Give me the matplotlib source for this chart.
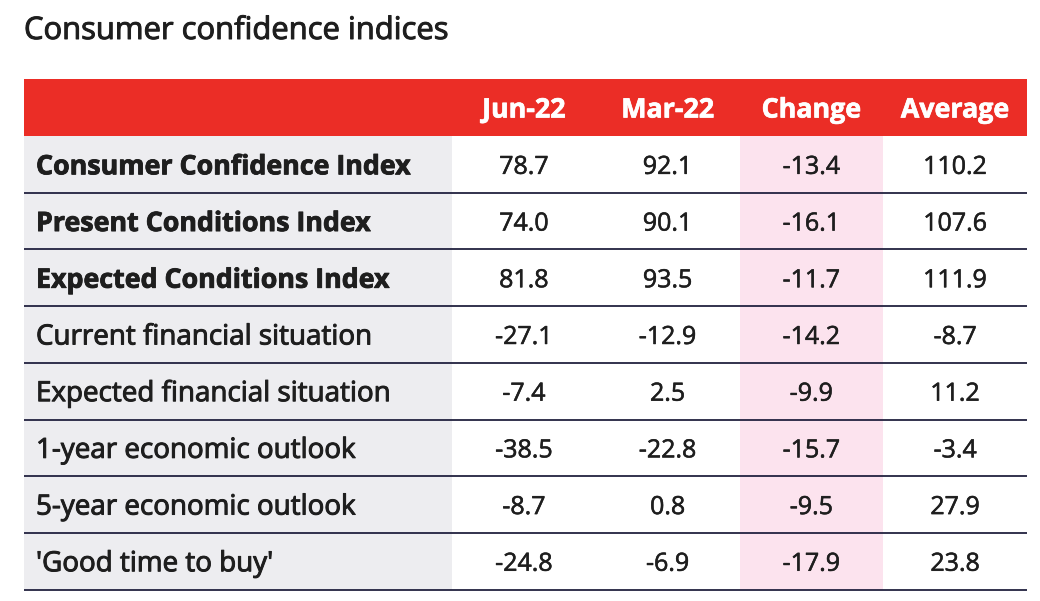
"""
Consumer confidence indices table, drawn with Matplotlib patches and text
"""

import matplotlib.pyplot as plt
import matplotlib.patheffects as pe
from matplotlib.patches import Rectangle

# Table content
columns = ["Jun-22", "Mar-22", "Change", "Average"]
row_labels = [
    "Consumer Confidence Index",
    "Present Conditions Index",
    "Expected Conditions Index",
    "Current financial situation",
    "Expected financial situation",
    "1-year economic outlook",
    "5-year economic outlook",
    "'Good time to buy'",
]
bold_rows = [True, True, True, False, False, False, False, False]
jun_22 = [78.7, 74.0, 81.8, -27.1, -7.4, -38.5, -8.7, -24.8]
mar_22 = [92.1, 90.1, 93.5, -12.9, 2.5, -22.8, 0.8, -6.9]
change = [-13.4, -16.1, -11.7, -14.2, -9.9, -15.7, -9.5, -17.9]
average = [110.2, 107.6, 111.9, -8.7, 11.2, -3.4, 27.9, 23.8]

RED = "#EB2D26"
GREY = "#EDEDF0"
PINK = "#FCE3EE"
LINE = "#22223F"
TEXT = "#1E1E1E"
FONT = "Open Sans"

# Thicken text a little, the source font is heavier than Open Sans
medium = [pe.withStroke(linewidth=0.7, foreground=TEXT)]
light_medium = [pe.withStroke(linewidth=0.4, foreground=TEXT)]
heavy = [pe.withStroke(linewidth=0.6, foreground=TEXT)]
heavy_white = [pe.withStroke(linewidth=0.5, foreground="white")]

W, H = 1040, 601
fig = plt.figure(figsize=(W / 100, H / 100), dpi=100)
ax = fig.add_axes([0, 0, 1, 1])
ax.set_xlim(0, W)
ax.set_ylim(H, 0)
ax.axis("off")

# Layout in pixels
left, right = 24, 1027
label_w = 428
col_w = (right - left - label_w) / len(columns)
head_top, head_h = 79, 57
row_h = 56.7

ax.text(left, 31, "Consumer confidence indices", fontsize=22.3, family=FONT,
        color=TEXT, va="center", ha="left", path_effects=medium)

# Header band
ax.add_patch(Rectangle((left, head_top), right - left, head_h, color=RED, lw=0))
for j, name in enumerate(columns):
    cx = left + label_w + col_w * (j + 0.5)
    ax.text(cx, head_top + head_h / 2 + 3, name, fontsize=19.3, family=FONT,
            weight="bold", color="white", ha="center", va="center",
            path_effects=heavy_white)

body_top = head_top + head_h
n = len(row_labels)
# Grey label column and pink change column backgrounds
ax.add_patch(Rectangle((left, body_top), label_w, row_h * n, color=GREY, lw=0))
ax.add_patch(Rectangle((left + label_w + col_w * 2, body_top), col_w, row_h * n,
                       color=PINK, lw=0))

values = [jun_22, mar_22, change, average]
for i, label in enumerate(row_labels):
    cy = body_top + row_h * (i + 0.5) + 3
    if bold_rows[i]:
        ax.text(left + 12, cy, label, fontsize=19.3, family=FONT,
                weight="bold", color=TEXT, ha="left", va="center",
                path_effects=heavy)
    else:
        ax.text(left + 12, cy, label, fontsize=20, family=FONT,
                color=TEXT, ha="left", va="center", path_effects=medium)
    for j, series in enumerate(values):
        cx = left + label_w + col_w * (j + 0.5)
        ax.text(cx, cy, f"{series[i]:.1f}", fontsize=18, family=FONT,
                color=TEXT, ha="center", va="center", path_effects=light_medium)
    y_line = body_top + row_h * (i + 1)
    ax.plot([left, right], [y_line, y_line], color=LINE, lw=1.3,
            solid_capstyle="butt")

fig.savefig("out.png", dpi=100)
